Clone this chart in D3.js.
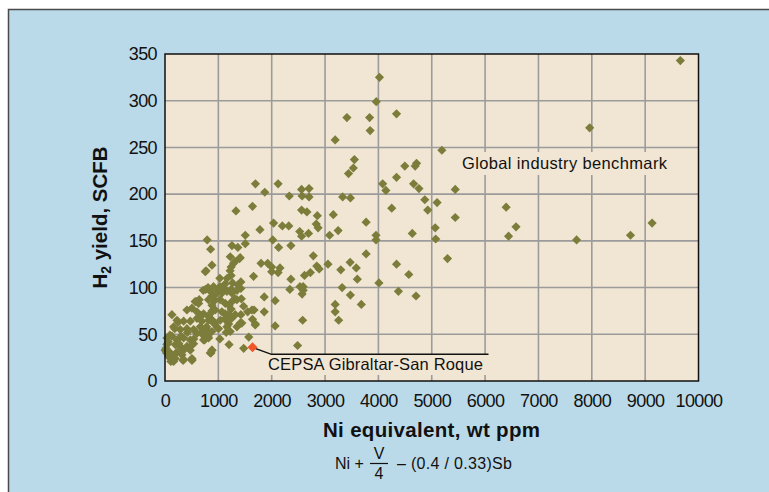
<!DOCTYPE html>
<html><head><meta charset="utf-8">
<script src="https://cdn.jsdelivr.net/npm/d3@7"></script>
<style>body{margin:0;background:#fff}svg{display:block;font-family:"Liberation Sans",Arial,sans-serif}</style>
</head><body><svg id="c" width="769" height="492"></svg>
<script>
// Global industry benchmark: Ni equivalent (wt ppm) and H2 yield (SCFB)
const benchX = [9660,4020,3960,3410,3835,4340,3845,3190,7960,5190,3550,3530,3440,4495,4715,4690,4340,4080,4140,4660,4760,5440,4870,5100,4925,4250,5440,6395,6580,6440,7715,8725,9130,5065,5075,4635,5295,3770,3955,3955,3770,4340,4570,4010,4375,4705,3680,3475,3320,3605,3585,3470,3295,3190,3190,3255,3055,3085,3155,3245,3330,3475,
2700,2560,2570,2700,2330,2120,1695,1870,1640,1330,2560,2660,2855,2835,2870,2690,2525,2560,2320,2200,2035,1780,2020,2130,2360,1505,1505,1255,1365,790,855,1395,1310,1240,1220,880,770,1800,1925,2000,2000,2155,2120,2780,2845,2890,2725,2615,2360,2340,2530,2590,2570,2590,2580,2485,2065,2065,1860,1860,1660,1670,1640,1695,1550,1570,1475,1200,
1422,1422,1367,1266,1239,1128,1028,1028,1165,1239,1431,1312,1202,1239,1248,1128,1128,1193,1147,1440,1422,1028,862,881,743,807,706,982,927,890,816,881,881,927,881,807,716,972,
1130,850,910,1000,1065,1160,1255,1350,565,630,815,910,1035,1130,1255,1348,1473,1629,411,505,599,723,848,942,1067,1192,1317,130,224,349,474,599,692,817,911,1036,1160,1410,1348,1691,162,287,411,536,661,786,880,1004,1160,1223,817,723,599,37,130,224,349,474,37,193,287,411,536,6,99,224,349,474,68,193,318,505,848,880,
110,339,505,248,183,92,46,28,6,161,349,505,755,1285,1223,1410,642,587,761,20,60,150,260,300,420,460,540,680,700,780];
const benchY = [343,325,299,282,282,286,268,258,271,247,237,228,222,230,233,230,218,211,204,211,206,205,194,191,183,185,175,186,165,155,151,156,169,164,152,158,131,170,156,151,136,125,114,105,96,91,82,92,100,109,121,127,119,82,74,65,125,156,178,161,197,196,
206,205,198,197,198,211,211,202,187,182,183,181,177,168,164,158,160,155,166,166,169,162,151,143,145,156,147,145,143,151,141,131,128,122,118,124,118,126,126,122,117,121,116,134,123,120,116,113,109,98,101,101,93,97,65,38,59,86,74,90,112,76,66,61,74,47,35,39,
99,106,103,105,98,98,101,110,110,113,88,88,81,77,67,72,67,61,52,62,71,45,30,33,44,48,53,57,62,65,69,75,81,86,91,100,97,94,
104,96,101,97,94,96,94,97,85,83,87,88,87,83,85,87,80,76,76,78,74,72,72,76,74,72,71,71,65,64,64,67,64,65,62,65,64,62,58,60,58,55,56,55,58,55,53,56,58,53,46,44,51,46,48,44,46,44,39,39,37,37,40,33,30,31,33,33,26,24,28,24,30,33,
21,22,22,63,56,49,40,30,33,21,23,23,117,126,133,132,87,85,98,35,42,27,40,48,52,36,45,70,50,58];
// Highlighted refinery
const cepsaX = [1640];
const cepsaY = [36];
const xTicks = [0,1000,2000,3000,4000,5000,6000,7000,8000,9000,10000];
const yTicks = [0,50,100,150,200,250,300,350];
const labels = {bench:"Global industry benchmark", cepsa:"CEPSA Gibraltar-San Roque",
  xTitle:"Ni equivalent, wt ppm"};

const svg = d3.select("#c");
const L=165, R=698.5, T=54, B=381;
const x = d3.scaleLinear().domain([0,10000]).range([L,R]);
const y = d3.scaleLinear().domain([0,350]).range([B,T]);

// panel
svg.append("rect").attr("x",8).attr("y",9).attr("width",761).attr("height",483).attr("fill","#badae9");
svg.append("path").attr("d","M8.5,492V9.5H769").attr("fill","none").attr("stroke","#4a4a4a").attr("stroke-width",1.5);
// plot bg
svg.append("rect").attr("x",L).attr("y",T).attr("width",R-L).attr("height",B-T).attr("fill","#f1e6d3");
// grid
const g = svg.append("g");
g.selectAll(".vx").data(xTicks.slice(1,-1)).join("line").attr("x1",d=>x(d)).attr("x2",d=>x(d)).attr("y1",T).attr("y2",B).attr("stroke","#9b9b9b").attr("stroke-width",1.6);
g.selectAll(".hy").data(yTicks.slice(1,-1)).join("line").attr("y1",d=>y(d)).attr("y2",d=>y(d)).attr("x1",L).attr("x2",R).attr("stroke","#9b9b9b").attr("stroke-width",1.6);

// axes labels
const xa = svg.append("g").attr("transform",`translate(0,${B})`).call(d3.axisBottom(x).tickValues(xTicks).tickSize(0).tickPadding(13).tickFormat(d3.format("d")));
xa.select(".domain").remove();
xa.selectAll("text").attr("font-size",18).attr("fill","#111").attr("font-family","Liberation Sans, Arial").attr("letter-spacing","-0.6");
const ya = svg.append("g").attr("transform",`translate(${L},0)`).call(d3.axisLeft(y).tickValues(yTicks).tickSize(0).tickPadding(8));
ya.select(".domain").remove();
ya.selectAll("text").attr("font-size",18).attr("fill","#111").attr("font-family","Liberation Sans, Arial").attr("letter-spacing","-0.6");

// points
const diamond = "M0,-4.6L4.6,0L0,4.6L-4.6,0Z";
svg.append("g").selectAll("path").data(benchX.map((d,i)=>[d,benchY[i]])).join("path")
  .attr("d",diamond).attr("transform",d=>`translate(${x(d[0])},${y(d[1])})`).attr("fill","#7c7d3b");

// benchmark label
svg.append("rect").attr("x",457).attr("y",152).attr("width",216).attr("height",23).attr("fill","#f1e6d3");
svg.append("text").attr("x",462).attr("y",169).attr("font-size",16.5).attr("fill","#111").attr("textLength",205).text(labels.bench);

// cepsa label
svg.append("rect").attr("x",266).attr("y",355).attr("width",222).attr("height",20).attr("fill","#f1e6d3");
svg.append("path").attr("d",`M${x(cepsaX[0])},${y(cepsaY[0])}L271.5,354.3H488.5`).attr("fill","none").attr("stroke","#111").attr("stroke-width",1.4);
svg.append("text").attr("x",268).attr("y",369.5).attr("font-size",16.5).attr("fill","#111").attr("textLength",215).text(labels.cepsa);
svg.append("g").selectAll("path").data(cepsaX.map((d,i)=>[d,cepsaY[i]])).join("path")
  .attr("d","M0,-5L5,0L0,5L-5,0Z").attr("transform",d=>`translate(${x(d[0])},${y(d[1])})`).attr("fill","#f0582a");

// plot border
svg.append("rect").attr("x",L).attr("y",T).attr("width",R-L).attr("height",B-T).attr("fill","none").attr("stroke","#111").attr("stroke-width",1.5);

// titles
svg.append("text").attr("x",431.5).attr("y",437).attr("text-anchor","middle").attr("font-size",20.5).attr("font-weight","bold").attr("fill","#111").attr("textLength",217).text(labels.xTitle);
const yt = svg.append("text").attr("transform","translate(107,217.5) rotate(-90)").attr("text-anchor","middle").attr("font-size",20.5).attr("font-weight","bold").attr("fill","#111");
yt.append("tspan").text("H");
yt.append("tspan").attr("font-size",14).attr("dy",4).text("2");
yt.append("tspan").attr("dy",-4).text(" yield, SCFB");

// formula
const f = svg.append("g").attr("font-size",16).attr("fill","#111");
f.append("text").attr("x",335).attr("y",468.5).text("Ni +");
f.append("text").attr("x",379).attr("y",459).attr("text-anchor","middle").text("V");
f.append("line").attr("x1",370).attr("x2",388).attr("y1",463.5).attr("y2",463.5).attr("stroke","#111").attr("stroke-width",1.2);
f.append("text").attr("x",379).attr("y",479).attr("text-anchor","middle").text("4");
f.append("text").attr("x",397).attr("y",468.5).attr("textLength",115).text("– (0.4 / 0.33)Sb");
</script></body></html>
